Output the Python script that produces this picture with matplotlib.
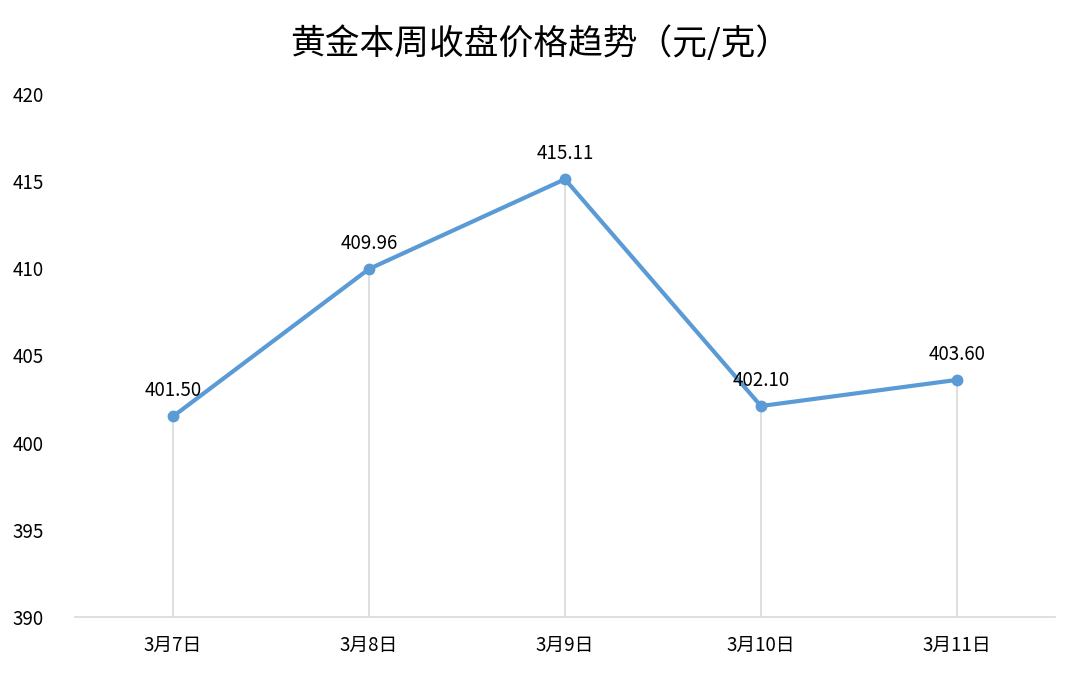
import matplotlib
matplotlib.use("Agg")
import matplotlib.pyplot as plt

plt.rcParams["font.family"] = ["Noto Sans CJK SC", "DejaVu Sans"]

dates  = ["3月7日", "3月8日", "3月9日", "3月10日", "3月11日"]
prices = [401.50, 409.96, 415.11, 402.10, 403.60]
yticks = [390, 395, 400, 405, 410, 415, 420]

line_color = "#5B9BD5"
grid_color = "#D9D9D9"

fig = plt.figure(figsize=(10.8, 6.76), dpi=100)
ax = fig.add_axes([0.0694, 0.0873, 0.9074, 0.7737])

x = range(len(dates))
# light drop lines from each point down to the axis
ax.vlines(x, 390, prices, color=grid_color, linewidth=1.2, zorder=1)
ax.plot(x, prices, color=line_color, linewidth=3, marker="o",
        markersize=7.5, zorder=3)

for xi, p in zip(x, prices):
    ax.annotate(f"{p:.2f}", (xi, p), xytext=(0, 11), textcoords="offset points",
                ha="center", va="bottom", fontsize=13.5, color="#000000")

ax.set_xlim(-0.5, len(dates) - 0.5)
ax.set_ylim(390, 420)
ax.set_xticks(list(x))
ax.set_xticklabels(dates, fontsize=13.5)
ax.set_yticks(yticks)
ax.set_yticklabels([str(v) for v in yticks], fontsize=13.5)
for lbl in ax.get_yticklabels():
    lbl.set_horizontalalignment("left")

ax.tick_params(axis="y", length=0, pad=45)
ax.tick_params(axis="x", length=0, pad=13)

for s in ["top", "right", "left"]:
    ax.spines[s].set_visible(False)
ax.spines["bottom"].set_color(grid_color)
ax.spines["bottom"].set_linewidth(1.2)

fig.text(0.5, 0.935, "黄金本周收盘价格趋势（元/克）", ha="center", va="center",
         fontsize=25, color="#000000")

fig.savefig("out.png", dpi=100, facecolor="white")
